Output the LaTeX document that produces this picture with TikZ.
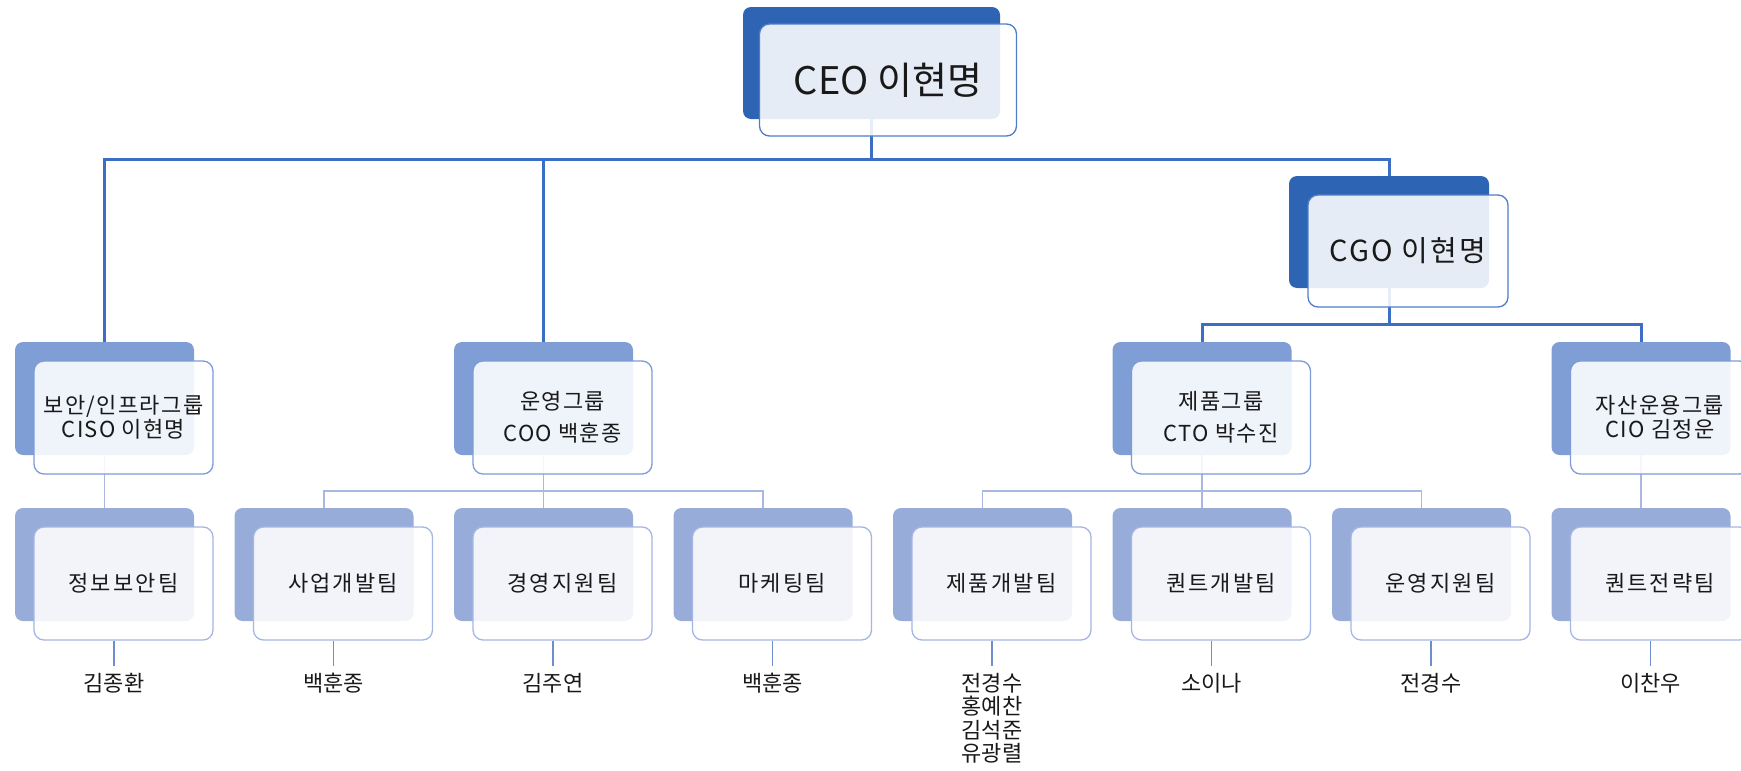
\documentclass[tikz,border=0pt]{standalone}
\usepackage{fontspec}
\setmainfont{Noto Sans CJK KR}
\newfontfamily\groupfont[LetterSpace=6]{Noto Sans CJK KR}
\newfontfamily\teamfont[LetterSpace=10]{Noto Sans CJK KR}
\newfontfamily\chieffont[LetterSpace=8]{Noto Sans CJK KR}
\usetikzlibrary{backgrounds}
\definecolor{cTop}{RGB}{46,100,180}
\definecolor{cMid}{RGB}{128,158,214}
\definecolor{cLow}{RGB}{152,172,218}
\definecolor{cTopEdge}{RGB}{80,125,200}
\definecolor{cMidEdge}{RGB}{125,155,215}
\definecolor{cLowEdge}{RGB}{165,182,228}
\definecolor{cMain}{RGB}{60,110,195}
\definecolor{cSub}{RGB}{168,184,226}
\definecolor{cName}{RGB}{110,142,208}
\definecolor{cText}{RGB}{25,25,25}
\begin{document}
\begin{tikzpicture}[x=1pt,y=-1pt,
    backbox/.style={rectangle,rounded corners=8pt,inner sep=0pt,minimum width=179pt,minimum height=113pt},
    frontbox/.style={backbox,rounded corners=10pt,draw,line width=1.3pt,fill=white,fill opacity=0.88,
      text opacity=1,text=cText,align=center,font=\groupfont\fontsize{22}{24}\selectfont},
    topback/.style={backbox,fill=cTop},
    topfront/.style={frontbox,draw=cTopEdge},
    midback/.style={backbox,fill=cMid},
    midfront/.style={frontbox,draw=cMidEdge},
    lowback/.style={backbox,fill=cLow},
    lowfront/.style={frontbox,draw=cLowEdge,font=\teamfont\fontsize{22}{24}\selectfont},
    person/.style={anchor=north,inner sep=0pt,inner ysep=7pt,align=center,text=cText,
      font=\fontsize{22}{23.5}\selectfont},
    mainline/.style={draw=cMain,line width=3pt},
    subline/.style={draw=cSub,line width=1.5pt},
    nameline/.style={draw=cName,line width=1.5pt}]
  \useasboundingbox (0,0) rectangle (1741,771);

  \node[topback,minimum width=257pt,minimum height=112pt] (ceob) at (871.5,63) {};
  \node[topfront,minimum width=257pt,minimum height=112pt,font=\fontsize{38}{44}\selectfont] (ceo) at (888,80) {CEO 이현명};
  \node[topback,minimum width=200pt,minimum height=112pt] (cgob) at (1389,232) {};
  \node[topfront,minimum width=200pt,minimum height=112pt,font=\chieffont\fontsize{29}{32}\selectfont] (cgo) at (1408,251) {CGO 이현명};

  \node[midback] (g1b) at (104.5,398.5) {};
  \node[midfront] (g1) at (123.5,417.5) {보안/인프라그룹\\CISO 이현명};
  \node[midback] (g2b) at (543.5,398.5) {};
  \node[midfront,font=\groupfont\fontsize{22}{32}\selectfont] (g2) at (562.5,417.5) {운영그룹\\COO 백훈종};
  \node[midback] (g3b) at (1202,398.5) {};
  \node[midfront,font=\groupfont\fontsize{22}{32}\selectfont] (g3) at (1221,417.5) {제품그룹\\CTO 박수진};
  \node[midback] (g4b) at (1641,398.5) {};
  \node[midfront] (g4) at (1660,417.5) {자산운용그룹\\CIO 김정운};

  \node[lowback] (t1b) at (104.5,564.5) {};
  \node[lowfront] (t1) at (123.5,583.5) {정보보안팀};
  \node[lowback] (t2b) at (324,564.5) {};
  \node[lowfront] (t2) at (343,583.5) {사업개발팀};
  \node[lowback] (t3b) at (543.5,564.5) {};
  \node[lowfront] (t3) at (562.5,583.5) {경영지원팀};
  \node[lowback] (t4b) at (763,564.5) {};
  \node[lowfront] (t4) at (782,583.5) {마케팅팀};
  \node[lowback] (t5b) at (982.5,564.5) {};
  \node[lowfront] (t5) at (1001.5,583.5) {제품개발팀};
  \node[lowback] (t6b) at (1202,564.5) {};
  \node[lowfront] (t6) at (1221,583.5) {퀀트개발팀};
  \node[lowback] (t7b) at (1421.5,564.5) {};
  \node[lowfront] (t7) at (1440.5,583.5) {운영지원팀};
  \node[lowback] (t8b) at (1641,564.5) {};
  \node[lowfront] (t8) at (1660,583.5) {퀀트전략팀};

  \node[person] (n1) at (114,666) {김종환};
  \node[person] (n2) at (333.5,666) {백훈종};
  \node[person] (n3) at (553,666) {김주연};
  \node[person] (n4) at (772.5,666) {백훈종};
  \node[person] (n5) at (992,666) {전경수\\홍예찬\\김석준\\유광렬};
  \node[person] (n6) at (1211.5,666) {소이나};
  \node[person] (n7) at (1431,666) {전경수};
  \node[person] (n8) at (1650.5,666) {이찬우};

  \coordinate (hub) at (871.5,159);
  \coordinate (cgohub) at (1389,324);
  \coordinate (g2hub) at (543.5,491);
  \coordinate (g3hub) at (1202,491);

  \begin{scope}[on background layer]
    \draw[mainline] (ceob) -- (hub);
    \draw[mainline] (g1b) |- (hub) -| (cgob);
    \draw[mainline] (g2b) -- (g2b |- hub);
    \draw[mainline] (cgob) -- (cgohub);
    \draw[mainline] (g3b) |- (cgohub) -| (g4b);
    \draw[subline] (g1b) -- (t1b);
    \draw[subline] (t2b) |- (g2hub) -| (t4b);
    \draw[subline] (g2b) -- (t3b);
    \draw[subline] (t5b) |- (g3hub) -| (t7b);
    \draw[subline] (g3b) -- (t6b);
    \draw[subline] (g4b) -- (t8b);
  \end{scope}

  \draw[nameline] (t1.south -| n1.north) -- (n1.north);
  \draw[nameline] (t2.south -| n2.north) -- (n2.north);
  \draw[nameline] (t3.south -| n3.north) -- (n3.north);
  \draw[nameline] (t4.south -| n4.north) -- (n4.north);
  \draw[nameline] (t5.south -| n5.north) -- (n5.north);
  \draw[nameline] (t6.south -| n6.north) -- (n6.north);
  \draw[nameline] (t7.south -| n7.north) -- (n7.north);
  \draw[nameline] (t8.south -| n8.north) -- (n8.north);
\end{tikzpicture}
\end{document}
